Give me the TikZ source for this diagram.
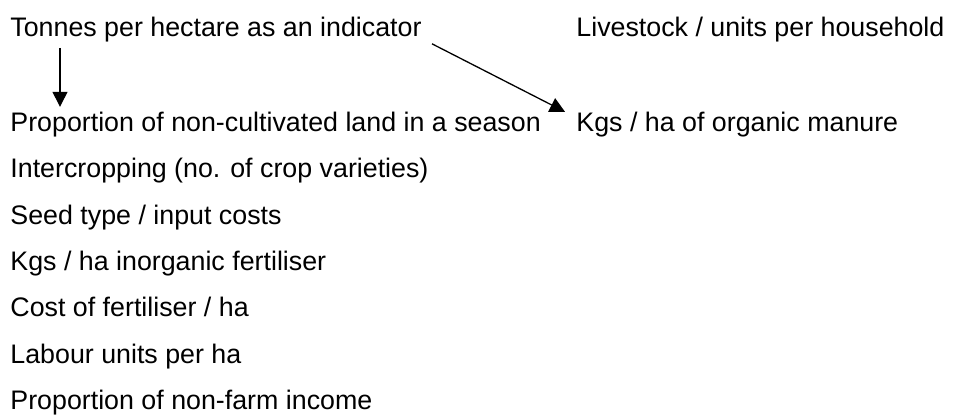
\documentclass[tikz,border=0pt]{standalone}
\usepackage{fontspec}
\setmainfont{Liberation Sans}
\usetikzlibrary{positioning, arrows.meta}
\tikzset{
item/.style={inner sep=0pt, text height=13pt, text depth=3.5pt, anchor=north west, font=\fontsize{13.4pt}{16pt}\selectfont}, % one line of text
link/.style={-{Triangle[length=7.5pt, width=7.5pt]}, line width=0.65pt}, % the arrows
node distance=6.3pt, % gap between two lines of the list
}
\begin{document}
\begin{tikzpicture}
                \useasboundingbox (0,0) rectangle (478.5pt,-207pt);
                \node[item] (ton) at (5pt,-5pt) {Tonnes per hectare as an indicator};
                \node[item] (liv) at (288pt,-5pt) {Livestock / units per household};
                \node[item, below=30.5pt of ton.south west, anchor=north west] (prop) {Proportion of non-cultivated land in a season};
                \node[item, below=30.5pt of liv.south west, anchor=north west] (kgo) {Kgs / ha of organic manure};
                \node[item, below=of prop.south west, anchor=north west] (inter) {Intercropping (no. of crop varieties)};
                \node[item, below=of inter.south west, anchor=north west] (seed) {Seed type / input costs};
                \node[item, below=of seed.south west, anchor=north west] (kgi) {Kgs / ha inorganic fertiliser};
                \node[item, below=of kgi.south west, anchor=north west] (cost) {Cost of fertiliser / ha};
                \node[item, below=of cost.south west, anchor=north west] (lab) {Labour units per ha};
                \node[item, below=of lab.south west, anchor=north west] (nonf) {Proportion of non-farm income};
                \draw[link, shorten <=2pt, shorten >=-1pt]
                    ([xshift=25pt]ton.south west) -- ([xshift=25pt]prop.north west);
                \draw[link]
                    ([xshift=5pt]ton.south east) -- ([shift={(-5.5pt,-3.5pt)}]kgo.north west);
                \end{tikzpicture}
\end{document}
